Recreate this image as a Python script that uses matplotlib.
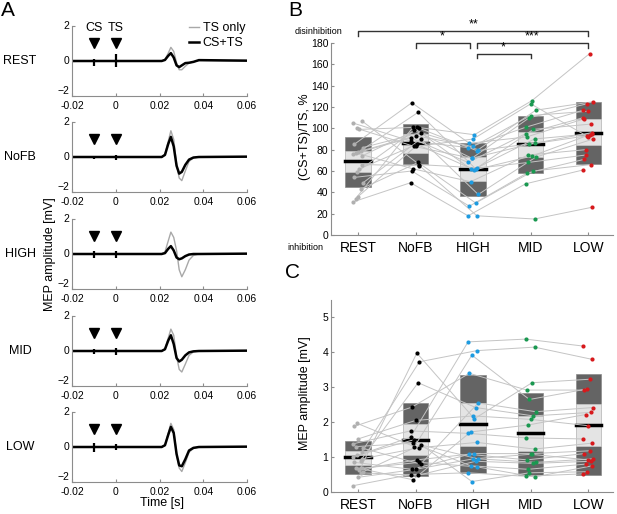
import numpy as np
import matplotlib.pyplot as plt

plt.rcParams['font.family'] = ['Liberation Sans', 'DejaVu Sans']

W, H = 617, 514

# ---- panel A: average MEP traces ----
conds = ["REST", "NoFB", "HIGH", "MID", "LOW"]
t_knots = [-0.02, 0.021, 0.0225, 0.024, 0.0252, 0.0265, 0.0278, 0.029,
           0.0302, 0.0318, 0.0335, 0.0355, 0.038, 0.06]
ts_only = {
    "REST": [0, 0, 0.08, 0.45, 0.78, 0.55, -0.1, -0.5, -0.5, -0.3, -0.12, -0.05, 0.03, 0],
    "NoFB": [0, 0, 0.15, 0.9, 1.5, 1.0, -0.4, -1.2, -1.35, -0.8, -0.25, -0.05, 0, 0],
    "HIGH": [0, 0, 0.12, 0.75, 1.25, 0.95, 0.2, -0.9, -1.3, -0.9, -0.35, -0.08, 0, 0],
    "MID":  [0, 0, 0.12, 0.75, 1.25, 0.9, -0.3, -1.05, -1.2, -0.75, -0.25, -0.05, 0, 0],
    "LOW":  [0, 0, 0.12, 0.8, 1.35, 1.0, -0.4, -1.2, -1.4, -0.9, -0.3, -0.08, 0, 0],
}
cs_ts = {
    "REST": [0, 0, 0.06, 0.3, 0.45, 0.2, -0.25, -0.35, -0.25, -0.12, -0.1, -0.05, 0.05, 0.02],
    "NoFB": [0, 0, 0.12, 0.75, 1.15, 0.6, -0.5, -0.95, -0.85, -0.45, -0.15, -0.03, 0, 0.02],
    "HIGH": [0, 0, 0.05, 0.3, 0.45, 0.2, -0.2, -0.3, -0.25, -0.12, -0.03, 0, 0, 0.02],
    "MID":  [0, 0, 0.1, 0.6, 0.9, 0.4, -0.4, -0.6, -0.5, -0.25, -0.08, -0.02, 0, 0.02],
    "LOW":  [0, 0, 0.1, 0.7, 1.15, 0.8, -0.4, -1.05, -1.1, -0.7, -0.2, -0.05, 0, 0.02],
}
# stimulus artifacts (lo, hi) at CS (-10 ms) and TS (0 ms)
art_cs = {"REST": (-0.3, 0.1), "NoFB": (-0.12, 0.08), "HIGH": (-0.2, 0.15),
          "MID": (-0.15, 0.1), "LOW": (-0.3, 0.25)}
art_ts = {"REST": (-0.35, 0.4), "NoFB": (-0.15, 0.12), "HIGH": (-0.2, 0.2),
          "MID": (-0.2, 0.2), "LOW": (-0.15, 0.15)}
stim_times = [-0.01, 0.0]

# ---- panel B: (CS+TS)/TS ratio per subject ----
ratio = {
    "REST": [105, 107, 99, 100, 85, 82, 79, 78, 77, 76, 74, 62, 59, 54, 49, 43, 36, 34, 31, 66],
    "NoFB": [88, 66, 101, 83, 124, 96, 115, 93, 62, 91, 100, 85, 98, 60, 90, 68, 83, 101, 49, 65],
    "HIGH": [82, 63, 94, 72, 86, 80, 62, 83, 50, 68, 79, 61, 72, 27, 38, 30, 90, 62, 18, 18],
    "MID":  [101, 90, 126, 110, 92, 117, 99, 112, 75, 95, 86, 74, 85, 58, 73, 60, 123, 68, 48, 15],
    "LOW":  [117, 95, 170, 123, 109, 125, 104, 116, 80, 110, 96, 94, 93, 71, 90, 66, 92, 75, 61, 26],
}
# mean, SD band, CI band
ratio_mean = [69, 86, 62, 85, 96]
ratio_sd = [(45, 92), (67, 104), (37, 86), (58, 112), (67, 125)]
ratio_ci = [(59, 79), (77, 95), (51, 73), (73, 97), (84, 109)]
sig = [(0, 4, 191, "**"), (1, 2, 180, "*"), (2, 4, 180, "***"), (2, 3, 170, "*")]

# ---- panel C: TS-only MEP amplitude per subject ----
amp = {
    "REST": [1.00, 1.15, 0.62, 1.97, 1.88, 1.25, 0.90, 1.52, 0.70, 1.38,
             0.95, 0.65, 1.05, 0.85, 0.58, 0.55, 0.42, 1.30, 0.18, 0.68],
    "NoFB": [1.57, 3.73, 3.98, 1.30, 2.43, 0.80, 3.13, 2.05, 0.35, 1.75,
             1.27, 0.92, 1.50, 0.65, 1.35, 0.48, 0.65, 1.40, 0.50, 0.85],
    "HIGH": [4.30, 4.05, 2.10, 3.92, 3.40, 2.55, 2.42, 2.18, 1.72, 1.68,
             1.42, 1.10, 0.30, 1.08, 0.95, 0.88, 0.95, 0.75, 0.55, 0.72],
    "MID":  [4.38, 4.15, 3.13, 2.65, 2.92, 2.30, 2.18, 2.08, 1.92, 1.55,
             1.23, 1.10, 0.55, 0.92, 0.85, 0.82, 1.08, 0.65, 0.45, 0.43],
    "LOW":  [4.18, 3.80, 3.23, 2.95, 2.92, 2.42, 2.28, 1.90, 2.22, 1.52,
             1.40, 1.18, 0.58, 1.10, 0.95, 0.88, 0.92, 0.80, 0.52, 0.75],
}
amp_mean = [0.99, 1.50, 1.95, 1.68, 1.93]
amp_sd = [(0.52, 1.45), (0.45, 2.55), (0.53, 3.35), (0.48, 2.85), (0.48, 3.37)]
amp_ci = [(0.78, 1.18), (1.05, 1.95), (1.33, 2.55), (1.17, 2.18), (1.32, 2.53)]

dot_colors = ["#b0b0b0", "#000000", "#1e9be0", "#1a9850", "#d7191c"]
SPINE = "#8c8c8c"


def rect(x0, y_top, x1, y_bot):
    # pixel box -> figure fraction
    return [x0 / W, 1 - y_bot / H, (x1 - x0) / W, (y_bot - y_top) / H]


def style(ax, fs=7.5):
    for s in ["top", "right"]:
        ax.spines[s].set_visible(False)
    for s in ["left", "bottom"]:
        ax.spines[s].set_color(SPINE)
        ax.spines[s].set_linewidth(0.8)
    ax.tick_params(direction="in", length=2.5, width=0.8, color=SPINE,
                   labelsize=fs, pad=2)


fig = plt.figure(figsize=(W / 100, H / 100), dpi=100)

# panel A
tops = [26, 122, 219, 316, 412]
for k, c in enumerate(conds):
    ax = fig.add_axes(rect(72, tops[k], 247, tops[k] + 70))
    style(ax)
    ax.tick_params(axis="x", pad=3.5)
    ax.plot(t_knots, ts_only[c], color="#a8a8a8", lw=1.0, label="TS only")
    ax.plot(t_knots, cs_ts[c], color="black", lw=1.8, label="CS+TS")
    ax.vlines(stim_times[0], *art_cs[c], color="black", lw=1.6)
    ax.vlines(stim_times[1], *art_ts[c], color="black", lw=1.6)
    ax.plot(stim_times, [1.05, 1.05], "v", color="black", ms=7)
    ax.set_xlim(-0.02, 0.06)
    ax.set_ylim(-2, 2)
    ax.set_xticks([-0.02, 0, 0.02, 0.04, 0.06])
    ax.set_xticklabels(["-0.02", "0", "0.02", "0.04", "0.06"])
    ax.set_yticks([-2, 0, 2])
    for lab in ax.get_yticklabels():
        lab.set_verticalalignment("bottom" if lab.get_text() in ("-2", "\u22122") else "center")
    fig.text(20 / W, 1 - (tops[k] + 35) / H, c, fontsize=9, ha="center", va="center")
    if k == 0:
        ax.text(-0.01, 1.55, "CS", ha="center", va="bottom", fontsize=9)
        ax.text(0.0, 1.55, "TS", ha="center", va="bottom", fontsize=9)
        ax.legend(loc="upper right", bbox_to_anchor=(1.04, 1.18), frameon=False,
                  fontsize=9, handlelength=0.8, handletextpad=0.3,
                  labelspacing=0.25, borderpad=0.2)

fig.text(50 / W, 1 - 254 / H, "MEP amplitude [mV]", rotation=90, fontsize=9,
         ha="center", va="center")
fig.text(162 / W, 1 - 503 / H, "Time [s]", fontsize=9, ha="center", va="center")


def group_panel(ax, data, means, sd, ci):
    x = np.arange(1, 6)
    n = len(data[conds[0]])
    jit = (((np.arange(n) * 7) % 9) - 4) * 0.022
    vals = np.array([data[c] for c in conds])
    for j in range(5):
        ax.add_patch(plt.Rectangle((x[j] - 0.22, sd[j][0]), 0.44, sd[j][1] - sd[j][0],
                                   facecolor="#646464", edgecolor="#8a8a8a", lw=0.5, zorder=1))
        ax.add_patch(plt.Rectangle((x[j] - 0.22, ci[j][0]), 0.44, ci[j][1] - ci[j][0],
                                   facecolor="#e4e4e4", edgecolor="#c8c8c8", lw=0.5, zorder=2))
        ax.plot([x[j] - 0.22, x[j] + 0.22], [means[j]] * 2, color="black", lw=2.5, zorder=3)
    for i in range(n):
        ax.plot(x + jit[i], vals[:, i], color="#c4c4c4", lw=0.7, zorder=4)
    for j in range(5):
        ax.scatter(x[j] + jit, vals[j], s=9, color=dot_colors[j], zorder=5, lw=0)
    ax.set_xlim(0.53, 5.43)
    ax.set_xticks(x)
    ax.set_xticklabels(conds, fontsize=10)
    ax.tick_params(axis="x", pad=4)


# panel B
axB = fig.add_axes(rect(331, 43, 613, 235))
style(axB)
group_panel(axB, ratio, ratio_mean, ratio_sd, ratio_ci)
axB.set_ylim(0, 180)
axB.set_yticks(np.arange(0, 181, 20))
for a, b, y, s in sig:
    xa, xb = a + 1.0, b + 1.0
    if a == 2:
        xa += 0.06
    if b == 2:
        xb -= 0.06
    axB.plot([xa, xa, xb, xb], [y - 4.5, y, y, y - 4.5], color="#333333", lw=1.0,
             clip_on=False)
    axB.text((xa + xb) / 2, y + 0.5, s, ha="center", va="bottom", fontsize=9)
fig.text(295 / W, 1 - 32 / H, "disinhibition", fontsize=6.5, ha="left", va="center")
fig.text(287 / W, 1 - 247 / H, "inhibition", fontsize=6.5, ha="left", va="center")
fig.text(305 / W, 1 - 137 / H, "(CS+TS)/TS, %", rotation=90, fontsize=9,
         ha="center", va="center")

# panel C
axC = fig.add_axes(rect(331, 300, 613, 492))
style(axC)
group_panel(axC, amp, amp_mean, amp_sd, amp_ci)
axC.set_ylim(0, 5.5)
axC.set_yticks(np.arange(0, 6))
fig.text(305 / W, 1 - 393 / H, "MEP amplitude [mV]", rotation=90, fontsize=9,
         ha="center", va="center")

# panel letters
fig.text(8 / W, 1 - 10 / H, "A", fontsize=15, ha="center", va="center")
fig.text(295 / W, 1 - 10 / H, "B", fontsize=15, ha="center", va="center")
fig.text(292 / W, 1 - 272 / H, "C", fontsize=15, ha="center", va="center")

fig.savefig("out.png", dpi=100)
